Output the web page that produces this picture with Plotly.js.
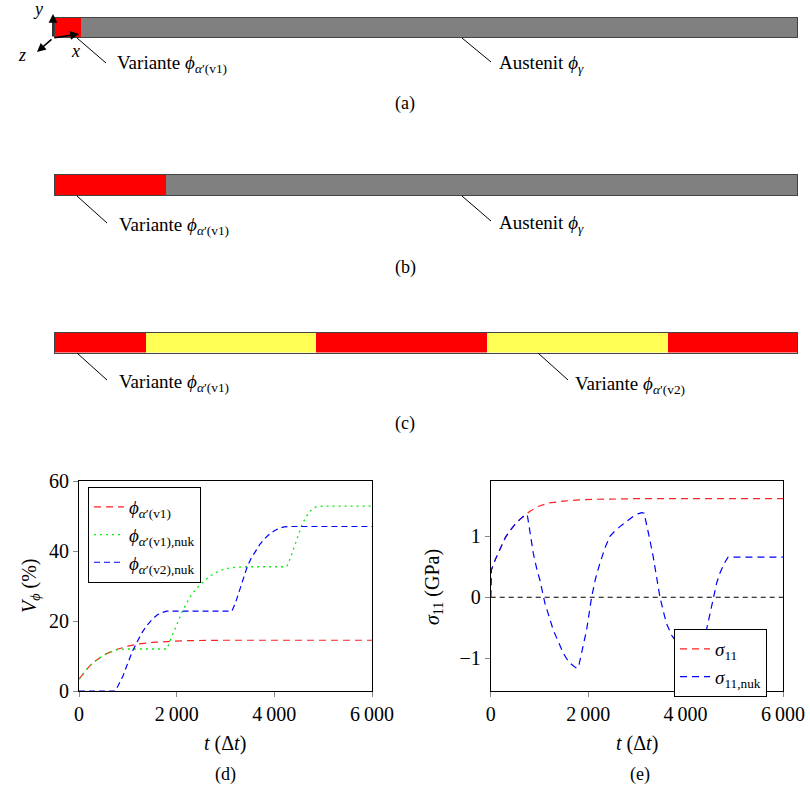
<!DOCTYPE html>
<html>
<head>
<meta charset="utf-8">
<script src="https://cdn.plot.ly/plotly-3.0.1.min.js"></script>
<style>
  html, body { margin: 0; padding: 0; background: #fff; }
  #fig { width: 810px; height: 796px; }
</style>
</head>
<body>
<div id="fig"></div>
<script>
// ---- phase bars: segment edges along the domain (fraction of length) ----
const barAEdges = [0, 0.035, 1];
const barAColors = ['#ff0000', '#808080'];
const barBEdges = [0, 0.15, 1];
const barBColors = ['#ff0000', '#808080'];
const barCEdges = [0, 0.123, 0.352, 0.582, 0.826, 1];
const barCColors = ['#ff0000', '#ffff55', '#ff0000', '#ffff55', '#ff0000'];

// ---- (d) volume fractions V_phi (%) over time steps ----
const tRed = [0, 100, 200, 300, 400, 500, 600, 700, 800, 1000, 1200, 1500, 1800, 2200, 3000, 4000, 5000, 6000];
const vRed = [3.4, 5.3, 6.9, 8.2, 9.3, 10.2, 10.9, 11.5, 12.0, 12.8, 13.4, 13.9, 14.2, 14.4, 14.5, 14.5, 14.5, 14.5];

const tGreen = [0, 100, 200, 300, 400, 500, 600, 700, 800, 1000, 1400, 1800, 1900, 2000, 2100, 2200, 2300, 2400, 2550, 2700, 2900, 3100, 3400, 3800, 4250, 4330, 4400, 4480, 4560, 4650, 4750, 4850, 5000, 6000];
const vGreen = [3.4, 5.3, 6.9, 8.2, 9.3, 10.2, 10.9, 11.5, 11.9, 12.0, 12.0, 12.0, 15.5, 19.0, 22.2, 25.0, 27.4, 29.2, 31.3, 33.0, 34.5, 35.2, 35.5, 35.5, 35.5, 38.0, 41.0, 44.3, 47.3, 49.8, 51.6, 52.6, 52.8, 52.8];

const tBlue = [0, 740, 800, 900, 1000, 1100, 1200, 1300, 1400, 1500, 1600, 1700, 1800, 2500, 3130, 3200, 3280, 3360, 3440, 3520, 3600, 3700, 3800, 3900, 4000, 4100, 4200, 4300, 6000];
const vBlue = [0, 0, 1.5, 4.3, 8.0, 11.5, 14.3, 16.9, 18.9, 20.5, 21.7, 22.4, 22.8, 22.8, 22.8, 25.0, 28.5, 32.2, 35.3, 37.8, 39.7, 41.8, 43.5, 44.8, 45.8, 46.5, 46.9, 47.0, 47.0];

// ---- (e) stress sigma_11 (GPa) over time steps ----
const tSig = [0, 15, 100, 200, 300, 400, 500, 600, 700, 800, 1000, 1200, 1500, 1800, 2200, 3000, 4000, 5000, 6000];
const vSig = [0, 0.45, 0.63, 0.82, 0.98, 1.10, 1.20, 1.28, 1.35, 1.41, 1.50, 1.55, 1.58, 1.60, 1.61, 1.62, 1.62, 1.62, 1.62];

const tNuk = [0, 15, 100, 200, 300, 400, 500, 600, 700, 750, 800, 875, 950, 1011, 1114, 1200, 1285, 1400, 1490, 1560, 1627, 1700, 1770, 1810, 1870, 1968, 2071, 2150, 2242, 2350, 2447, 2550, 2652, 2800, 2925, 3020, 3100, 3150, 3198, 3265, 3335, 3400, 3472, 3540, 3608, 3711, 3850, 4000, 4150, 4280, 4350, 4428, 4500, 4565, 4640, 4702, 4790, 4873, 6000];
const vNuk = [0, 0.45, 0.63, 0.82, 0.98, 1.10, 1.20, 1.28, 1.35, 1.36, 1.12, 0.72, 0.45, 0.28, -0.10, -0.33, -0.54, -0.75, -0.92, -1.01, -1.08, -1.13, -1.17, -1.12, -0.90, -0.54, 0.0, 0.30, 0.56, 0.82, 1.0, 1.09, 1.16, 1.26, 1.33, 1.37, 1.39, 1.38, 1.22, 0.95, 0.67, 0.34, 0.01, -0.22, -0.43, -0.62, -0.78, -0.88, -0.94, -0.95, -0.80, -0.54, -0.27, 0.0, 0.24, 0.39, 0.55, 0.66, 0.66];

const tZero = [0, 6000];
const vZero = [0, 0];

// ---- tick labels ----
const tTickVals = [0, 2000, 4000, 6000];
const tTickText = ['0', '2\u2009000', '4\u2009000', '6\u2009000'];
const vTickVals = [0, 20, 40, 60];
const vTickText = ['0', '20', '40', '60'];
const sTickVals = [-1, 0, 1];
const sTickText = ['\u22121', '0', '1'];

// ---- helpers: pixel position -> paper fraction ----
const W = 810, H = 796;
const px = v => v / W;
const py = v => 1 - v / H;
const SERIF = 'Liberation Serif, Times New Roman, DejaVu Serif, serif';

const traces = [];

// phase bars, one trace per segment
function addBar(edges, colors, xa, ya) {
  for (let i = 0; i < colors.length; i++) {
    traces.push({
      type: 'bar', orientation: 'h',
      y: [0], x: [edges[i + 1] - edges[i]], base: [edges[i]],
      width: 1,
      marker: { color: colors[i], line: { width: 0 } },
      xaxis: xa, yaxis: ya, showlegend: false, hoverinfo: 'skip'
    });
  }
}
addBar(barAEdges, barAColors, 'x3', 'y3');
addBar(barBEdges, barBColors, 'x4', 'y4');
addBar(barCEdges, barCColors, 'x5', 'y5');

// (d) curves
traces.push({
  x: tRed, y: vRed, mode: 'lines', xaxis: 'x', yaxis: 'y',
  name: '<i>ϕ</i><sub><i>α</i>′(v1)</sub>', legend: 'legend',
  line: { color: '#ff2020', width: 1.2, dash: '7px,5px' }
});
traces.push({
  x: tGreen, y: vGreen, mode: 'lines', xaxis: 'x', yaxis: 'y',
  name: '<i>ϕ</i><sub><i>α</i>′(v1),nuk</sub>', legend: 'legend',
  line: { color: '#00ee00', width: 1.3, dash: '2px,4px' }
});
traces.push({
  x: tBlue, y: vBlue, mode: 'lines', xaxis: 'x', yaxis: 'y',
  name: '<i>ϕ</i><sub><i>α</i>′(v2),nuk</sub>', legend: 'legend',
  line: { color: '#0000ff', width: 1.2, dash: '6px,4px' }
});
// (e) curves
traces.push({
  x: tZero, y: vZero, mode: 'lines', xaxis: 'x2', yaxis: 'y2', showlegend: false,
  line: { color: '#000000', width: 1.1, dash: '5px,4px' }, hoverinfo: 'skip'
});
traces.push({
  x: tSig, y: vSig, mode: 'lines', xaxis: 'x2', yaxis: 'y2',
  name: '<i>σ</i><sub>11</sub>', legend: 'legend2',
  line: { color: '#ff2020', width: 1.2, dash: '7px,5px' }
});
traces.push({
  x: tNuk, y: vNuk, mode: 'lines', xaxis: 'x2', yaxis: 'y2',
  name: '<i>σ</i><sub>11,nuk</sub>', legend: 'legend2',
  line: { color: '#0000ff', width: 1.2, dash: '7px,5px' }
});

const plotAxis = (domain, extra) => Object.assign({
  domain: domain, showline: true, mirror: true, linecolor: '#000', linewidth: 1,
  ticks: 'outside', ticklen: 5, tickwidth: 1, tickcolor: '#888',
  showgrid: false, zeroline: false, fixedrange: true,
  tickfont: { family: SERIF, size: 20, color: '#000' }
}, extra);

const barAxisX = dom => ({
  domain: dom, range: [0, 1], showline: true, mirror: true, linecolor: '#444', linewidth: 1,
  showticklabels: false, ticks: '', showgrid: false, zeroline: false, fixedrange: true
});
const barAxisY = dom => ({
  domain: dom, range: [-0.5, 0.5], showline: true, mirror: true, linecolor: '#444', linewidth: 1,
  showticklabels: false, ticks: '', showgrid: false, zeroline: false, fixedrange: true
});

const dX = [px(79), px(372)];
const eX = [px(490.7), px(783)];
const deY = [py(691), py(481)];
const barX = [px(55), px(797)];

const txt = (x, y, text, size, opts) => Object.assign({
  x: px(x), y: py(y), xref: 'paper', yref: 'paper', text: text, showarrow: false,
  font: { family: SERIF, size: size, color: '#000' }, xanchor: 'center', yanchor: 'middle'
}, opts || {});

const arrow = (hx, hy, ax, ay) => ({
  x: px(hx), y: py(hy), xref: 'paper', yref: 'paper', text: '', showarrow: true,
  ax: ax, ay: ay, arrowhead: 2, arrowsize: 1.1, arrowwidth: 1.6, arrowcolor: '#000'
});

const leader = (x0, y0, x1, y1) => ({
  type: 'line', xref: 'paper', yref: 'paper',
  x0: px(x0), y0: py(y0), x1: px(x1), y1: py(y1),
  line: { color: '#000', width: 1 }
});

const variantV1 = 'Variante <i>ϕ</i><sub><i>α</i>′(v1)</sub>';
const variantV2 = 'Variante <i>ϕ</i><sub><i>α</i>′(v2)</sub>';
const austenit = 'Austenit <i>ϕ</i><sub><i>γ</i></sub>';

const layout = {
  width: W, height: H,
  margin: { l: 0, r: 0, t: 0, b: 0 },
  paper_bgcolor: '#fff', plot_bgcolor: 'rgba(0,0,0,0)',
  barmode: 'overlay', bargap: 0,
  showlegend: true,
  font: { family: SERIF, size: 18, color: '#000' },
  xaxis: plotAxis(dX, { range: [0, 6000], tickvals: tTickVals, ticktext: tTickText, anchor: 'y' }),
  yaxis: plotAxis(deY, { range: [0, 60], tickvals: vTickVals, ticktext: vTickText, anchor: 'x' }),
  xaxis2: plotAxis(eX, { range: [0, 6000], tickvals: tTickVals, ticktext: tTickText, anchor: 'y2' }),
  yaxis2: plotAxis(deY, { range: [-1.54, 1.91], tickvals: sTickVals, ticktext: sTickText, anchor: 'x2' }),
  xaxis3: Object.assign(barAxisX(barX), { anchor: 'y3' }),
  yaxis3: Object.assign(barAxisY([py(37), py(17.5)]), { anchor: 'x3' }),
  xaxis4: Object.assign(barAxisX(barX), { anchor: 'y4' }),
  yaxis4: Object.assign(barAxisY([py(195), py(175)]), { anchor: 'x4' }),
  xaxis5: Object.assign(barAxisX(barX), { anchor: 'y5' }),
  yaxis5: Object.assign(barAxisY([py(352.5), py(332.5)]), { anchor: 'x5' }),
  legend: {
    x: px(88), y: py(487), xanchor: 'left', yanchor: 'top',
    bgcolor: '#fff', bordercolor: '#000', borderwidth: 1,
    font: { family: SERIF, size: 19, color: '#000' }, itemwidth: 30,
    tracegroupgap: 0
  },
  legend2: {
    x: px(674), y: py(629), xanchor: 'left', yanchor: 'top',
    bgcolor: '#fff', bordercolor: '#000', borderwidth: 1,
    font: { family: SERIF, size: 19, color: '#000' }, itemwidth: 30
  },
  shapes: [
    leader(77, 38, 106, 63),
    leader(462, 38, 491, 62),
    leader(77, 196, 107, 223),
    leader(462, 196, 491, 221),
    leader(77, 353, 107, 380),
    leader(538, 353, 568, 380)
  ],
  annotations: [
    // coordinate system
    arrow(53, 14, 0, 24),
    arrow(79, 34, -26, 4),
    arrow(37, 52, 16, -14),
    txt(38, 9, '<i>y</i>', 18),
    txt(75, 51, '<i>x</i>', 18),
    txt(22, 55, '<i>z</i>', 18),
    // phase labels
    txt(115, 64, variantV1, 19, { xanchor: 'left' }),
    txt(497, 64, austenit, 19, { xanchor: 'left' }),
    txt(117, 226, variantV1, 19, { xanchor: 'left' }),
    txt(497, 224, austenit, 19, { xanchor: 'left' }),
    txt(117, 383, variantV1, 19, { xanchor: 'left' }),
    txt(573, 385, variantV2, 19, { xanchor: 'left' }),
    // captions
    txt(405, 103, '(a)', 18),
    txt(405, 267, '(b)', 18),
    txt(405, 423, '(c)', 18),
    txt(225, 774, '(d)', 18),
    txt(640, 774, '(e)', 18),
    // axis titles
    txt(225, 743, '<i>t</i> (Δ<i>t</i>)', 20),
    txt(637, 743, '<i>t</i> (Δ<i>t</i>)', 20),
    txt(30, 586, '<i>V</i><sub><i>ϕ</i></sub> (%)', 20, { textangle: -90 }),
    txt(433, 587, '<i>σ</i><sub>11</sub> (GPa)', 20, { textangle: -90 })
  ]
};

Plotly.newPlot('fig', traces, layout, { staticPlot: true, displayModeBar: false });
</script>
</body>
</html>
